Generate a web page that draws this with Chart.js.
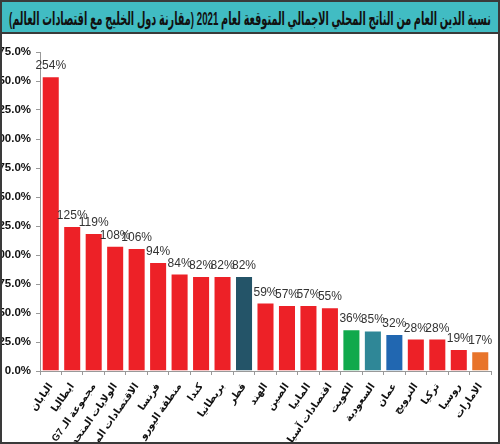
<!DOCTYPE html>
<html lang="ar">
<head>
<meta charset="utf-8">
<script src="https://cdn.jsdelivr.net/npm/chart.js@4/dist/chart.umd.min.js"></script>
<style>
  html, body { margin: 0; padding: 0; background: #fff; }
  #frame { position: relative; width: 500px; height: 444px; box-sizing: border-box; border: 2px solid #3a3a3a; overflow: hidden; background: #fff; }
  #title { position: absolute; left: 0; top: 0; width: 496px; height: 30px; background: #41bcc3; border-bottom: 2px solid #3a3a3a; overflow: hidden; }
  #titleText { position: absolute; left: 248px; top: 16px; transform-origin: 0 0;
           font-family: "Liberation Sans", "DejaVu Sans", sans-serif; font-weight: bold; font-size: 19px; color: #111;
           white-space: nowrap; direction: rtl; line-height: 1; }
  #wrap { position: absolute; left: -11px; top: 32px; width: 507px; height: 408px; }
</style>
</head>
<body>
<div id="frame">
  <div id="title"><span id="titleText">نسبة الدين العام من الناتج المحلي الاجمالي المتوقعة لعام 2021 (مقارنة دول الخليج مع اقتصادات العالم)</span></div>
  <div id="wrap"><canvas id="c"></canvas></div>
</div>
<script>
(function fitTitle() {
  const t = document.getElementById('titleText');
  const w = t.offsetWidth, h = t.offsetHeight;
  const s = Math.min(1, 482 / w);
  t.style.transform = 'translate(' + (-w * s / 2) + 'px,' + (-h / 2) + 'px) scaleX(' + s + ')';
})();

const categories = ["اليابان", "ايطاليا", "\u202Bمجموعة الـ G7\u202C", "الولايات المتحدة", "الاقتصادات المتقدمة", "فرنسا", "منطقة اليورو", "كندا", "بريطانيا", "قطر", "الهند", "الصين", "المانيا", "اقتصادات آسيا", "الكويت", "السعودية", "عمان", "النرويج", "تركيا", "روسيا", "الامارات"];
const debtRatio = [254, 125, 119, 108, 106, 94, 84, 82, 82, 82, 59, 57, 57, 55, 36, 35, 32, 28, 28, 19, 17];
const barColors = ["#ed2127", "#ed2127", "#ed2127", "#ed2127", "#ed2127", "#ed2127", "#ed2127", "#ed2127", "#ed2127", "#245468", "#ed2127", "#ed2127", "#ed2127", "#ed2127", "#10a94c", "#2f8797", "#2167b1", "#ed2127", "#ed2127", "#ed2127", "#e8742a"];
const yTicks = [0, 25, 50, 75, 100, 125, 150, 175, 200, 225, 250, 275];

const valueLabels = {
  id: 'valueLabels',
  afterDatasetsDraw(chart) {
    const ctx = chart.ctx;
    const meta = chart.getDatasetMeta(0);
    ctx.save();
    ctx.font = '12px "Liberation Sans Narrow", "Liberation Sans", sans-serif';
    ctx.fillStyle = '#333';
    ctx.textAlign = 'center';
    ctx.textBaseline = 'alphabetic';
    meta.data.forEach((bar, i) => {
      ctx.fillText(debtRatio[i] + '%', bar.x, bar.y - 7);
    });
    ctx.restore();
  }
};

new Chart(document.getElementById('c'), {
  type: 'bar',
  data: {
    labels: categories,
    datasets: [{
      data: debtRatio,
      backgroundColor: barColors,
      borderColor: 'rgba(255,255,255,0.55)',
      borderWidth: 1,
      barPercentage: 0.84,
      categoryPercentage: 1.0
    }]
  },
  options: {
    responsive: true,
    maintainAspectRatio: false,
    animation: false,
    devicePixelRatio: 1,
    layout: { padding: { top: 18, right: 7, bottom: 0, left: 0 } },
    plugins: { legend: { display: false }, tooltip: { enabled: false }, title: { display: false } },
    scales: {
      x: {
        grid: { display: true, drawOnChartArea: false, offset: true, tickLength: 4, color: '#999' },
        border: { display: true, color: '#999' },
        ticks: {
          autoSkip: false, minRotation: 55, maxRotation: 55, padding: 6, color: '#111',
          font: { family: '"Liberation Sans", "DejaVu Sans", sans-serif', size: 10, weight: 'bold' }
        },
        afterFit(scale) { scale.height = 71; }
      },
      y: {
        min: 0, max: 275,
        afterBuildTicks(scale) { scale.ticks = yTicks.map(v => ({ value: v })); },
        grid: { display: true, drawOnChartArea: false, tickLength: 4, color: '#999' },
        border: { display: true, color: '#999' },
        ticks: {
          padding: 5, color: '#111',
          font: { family: '"Liberation Sans Narrow", "Liberation Sans", sans-serif', size: 11.5, weight: 'bold' },
          callback: v => v.toFixed(1) + '%'
        },
        afterFit(scale) { scale.width = 49; }
      }
    }
  },
  plugins: [valueLabels]
});
</script>
</body>
</html>
